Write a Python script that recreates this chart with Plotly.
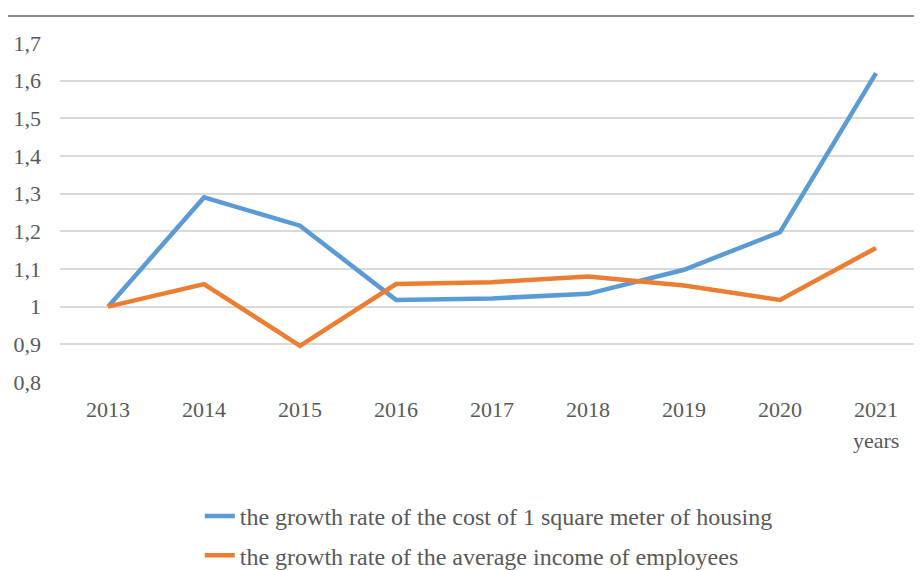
import plotly.graph_objects as go

years = ["2013", "2014", "2015", "2016", "2017", "2018", "2019", "2020", "2021"]
housing_cost_growth = [1.0, 1.29, 1.215, 1.018, 1.022, 1.034, 1.098, 1.198, 1.62]
income_growth = [1.0, 1.06, 0.896, 1.06, 1.065, 1.08, 1.056, 1.018, 1.156]
y_tick_vals = [0.8, 0.9, 1.0, 1.1, 1.2, 1.3, 1.4, 1.5, 1.6, 1.7]
y_tick_text = ["0,8", "0,9", "1", "1,1", "1,2", "1,3", "1,4", "1,5", "1,6", "1,7"]
series_names = [
    "the growth rate of the cost of 1 square meter of housing",
    "the growth rate of the average income of employees",
]

FONT = "Liberation Serif, Times New Roman, serif"
GREY = "#595959"
W, H = 922, 570
OFF = 8  # page body margin offset
PLOT_TOP, PLOT_BOTTOM, PLOT_LEFT, PLOT_RIGHT = 43 - OFF, 382 - OFF, 60 - OFF, 924 - OFF
PLOT_H = PLOT_BOTTOM - PLOT_TOP
PLOT_W = PLOT_RIGHT - PLOT_LEFT

fig = go.Figure()
fig.add_trace(go.Scatter(x=years, y=housing_cost_growth, mode="lines", name=series_names[0],
                         line=dict(color="#5B9BD5", width=4.5), legendgroup="a"))
fig.add_trace(go.Scatter(x=years, y=income_growth, mode="lines", name=series_names[1],
                         line=dict(color="#ED7D31", width=4.5), legendgroup="b"))

fig.update_layout(
    width=W, height=H,
    paper_bgcolor="white", plot_bgcolor="white",
    margin=dict(l=PLOT_LEFT, r=W - PLOT_RIGHT, t=PLOT_TOP, b=H - PLOT_BOTTOM, autoexpand=False),
    font=dict(family=FONT, color=GREY, size=22),
    showlegend=True,
    legend=dict(
        xref="container", yref="container",
        x=0.208, y=1 - 486 / 570, xanchor="left", yanchor="top",
        orientation="v", font=dict(size=24, color=GREY, family=FONT),
        tracegroupgap=5, itemwidth=30, bgcolor="rgba(0,0,0,0)",
    ),
    xaxis=dict(
        type="category", range=[-0.5, 8.5], showgrid=False, zeroline=False,
        showline=False, ticks="", tickangle=0, tickfont=dict(size=22, color=GREY, family=FONT),
        ticklabelstandoff=12,
    ),
    yaxis=dict(
        range=[0.8, 1.7], tickvals=y_tick_vals, ticktext=y_tick_text,
        showgrid=True, gridcolor="#D9D9D9", gridwidth=1.5, zeroline=False,
        showline=False, ticks="", tickfont=dict(size=22, color=GREY, family=FONT),
        ticklabelstandoff=18,
    ),
    shapes=[dict(type="line", xref="paper", yref="paper",
                 x0=-PLOT_LEFT / PLOT_W, x1=1,
                 y0=(PLOT_BOTTOM - (16 - OFF)) / PLOT_H, y1=(PLOT_BOTTOM - (16 - OFF)) / PLOT_H,
                 line=dict(color="#666666", width=1.5))],
    annotations=[dict(x=8, y=(PLOT_BOTTOM - (440 - OFF)) / PLOT_H, xref="x", yref="paper", text="years",
                      showarrow=False, yanchor="middle", font=dict(size=22, color=GREY, family=FONT))],
)

fig.write_html("out.html")
